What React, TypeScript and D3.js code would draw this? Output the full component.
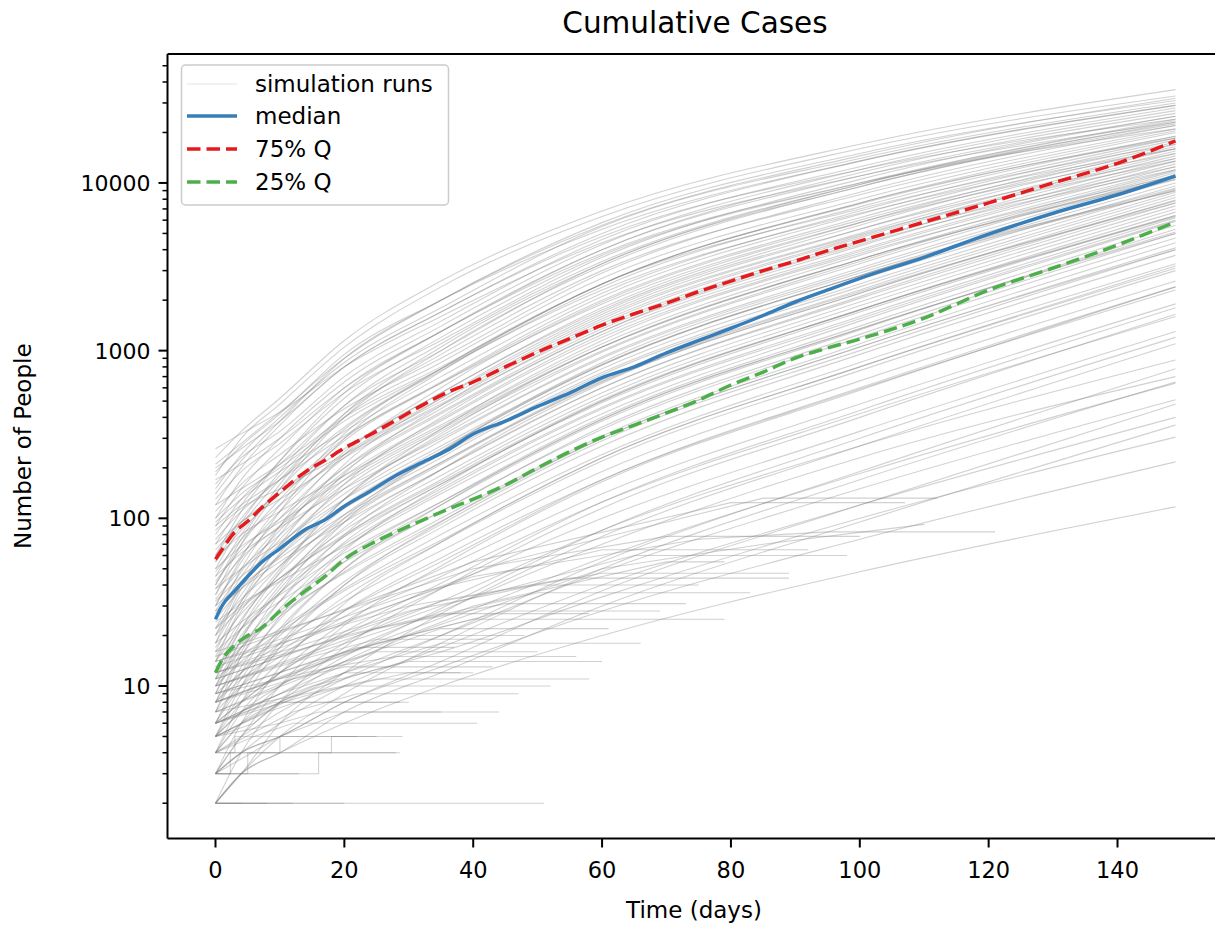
import React from 'react';
import * as d3 from 'd3';

const W = 1215;
const H = 930;

// days at which each growing simulation run was read
const runDays = [0, 4, 10, 20, 35, 60, 100, 149];
const growingRuns: number[][] = [
  [230, 330, 520, 1150, 2600, 6800, 17000, 36000],
  [180, 300, 480, 1050, 2400, 6300, 16000, 33000],
  [210, 280, 430, 900, 2000, 5800, 15000, 31000],
  [150, 240, 400, 850, 1800, 5500, 14000, 30000],
  [120, 200, 360, 800, 1700, 5000, 13500, 29000],
  [160, 230, 330, 700, 1500, 4600, 12500, 28000],
  [100, 170, 300, 650, 1400, 4300, 12000, 27000],
  [90, 150, 260, 600, 1300, 4000, 11500, 26000],
  [130, 190, 280, 560, 1150, 3600, 10500, 25000],
  [70, 120, 220, 520, 1200, 3700, 10000, 24000],
  [80, 130, 210, 470, 1000, 3300, 9500, 23000],
  [110, 160, 240, 450, 900, 2900, 8800, 22000],
  [60, 100, 180, 420, 950, 3000, 8500, 21000],
  [50, 90, 170, 400, 850, 2700, 8000, 20500],
  [75, 110, 170, 350, 780, 2500, 7600, 20000],
  [45, 80, 150, 340, 760, 2400, 7200, 19000],
  [95, 130, 190, 330, 700, 2200, 6800, 18500],
  [55, 85, 140, 300, 650, 2100, 6500, 18000],
  [40, 70, 130, 290, 640, 2000, 6200, 17500],
  [65, 95, 140, 260, 560, 1800, 5800, 17000],
  [35, 60, 110, 250, 560, 1750, 5600, 16500],
  [48, 75, 120, 240, 520, 1650, 5300, 16000],
  [30, 55, 100, 230, 500, 1600, 5000, 15500],
  [85, 115, 150, 240, 480, 1500, 4800, 15000],
  [28, 48, 90, 200, 450, 1450, 4700, 14500],
  [42, 65, 100, 200, 430, 1350, 4400, 14000],
  [25, 45, 85, 190, 420, 1300, 4200, 13500],
  [38, 58, 90, 180, 390, 1250, 4000, 13000],
  [22, 40, 75, 170, 380, 1200, 3900, 12500],
  [58, 80, 110, 180, 360, 1100, 3700, 12000],
  [33, 50, 80, 160, 340, 1050, 3500, 11800],
  [20, 35, 68, 150, 330, 1000, 3400, 11500],
  [27, 42, 70, 140, 310, 980, 3300, 11200],
  [45, 62, 88, 150, 300, 920, 3100, 11000],
  [18, 32, 60, 130, 290, 900, 3000, 10500],
  [25, 38, 60, 120, 260, 820, 2800, 10000],
  [15, 28, 52, 115, 250, 780, 2650, 9600],
  [32, 45, 66, 115, 240, 740, 2500, 9200],
  [14, 25, 47, 105, 230, 720, 2400, 8800],
  [22, 33, 52, 100, 215, 670, 2300, 8500],
  [12, 22, 42, 95, 210, 650, 2200, 8200],
  [28, 38, 55, 95, 195, 600, 2100, 7900],
  [10, 19, 38, 88, 195, 600, 2050, 7600],
  [17, 27, 44, 85, 180, 560, 1950, 7300],
  [11, 20, 36, 78, 170, 530, 1850, 7000],
  [20, 29, 44, 78, 160, 500, 1750, 6700],
  [9, 17, 32, 72, 160, 490, 1700, 6400],
  [14, 22, 36, 70, 150, 460, 1600, 6200],
  [8, 15, 29, 66, 145, 450, 1550, 6000],
  [24, 31, 42, 68, 140, 420, 1500, 5900],
  [10, 17, 28, 58, 125, 400, 1400, 5600],
  [7, 13, 25, 55, 120, 380, 1330, 5300],
  [16, 22, 32, 55, 110, 350, 1250, 5000],
  [6, 11, 22, 50, 110, 340, 1200, 4700],
  [12, 17, 26, 48, 100, 310, 1100, 4400],
  [8, 12, 20, 42, 92, 290, 1000, 4000],
  [5, 9, 18, 40, 88, 270, 950, 3700],
  [11, 15, 22, 38, 80, 240, 850, 3300],
  [6, 10, 17, 34, 72, 220, 760, 3000],
  [9, 12, 18, 32, 64, 190, 660, 2600],
  [5, 8, 14, 28, 58, 170, 590, 2300],
  [7, 10, 15, 26, 50, 140, 480, 1900],
  [4, 7, 12, 24, 45, 125, 420, 1600],
  [6, 8, 12, 20, 38, 100, 330, 1300],
  [4, 6, 10, 18, 32, 85, 270, 880],
  [5, 7, 10, 16, 28, 70, 230, 700],
  [3, 5, 8, 14, 24, 58, 185, 640],
  [4, 6, 8, 12, 20, 48, 150, 510],
  [3, 4, 6, 10, 17, 40, 120, 400],
  [5, 6, 8, 11, 16, 34, 100, 305],
  [3, 4, 5, 8, 13, 28, 75, 217],
  [2, 3, 4, 6, 10, 20, 48, 117],
  [200, 260, 380, 800, 1700, 4800, 12000, 24000],
  [140, 220, 380, 900, 2000, 5600, 14500, 32000],
  [170, 210, 300, 600, 1300, 3800, 10000, 21000],
  [60, 110, 220, 560, 1300, 4000, 11000, 25000],
  [35, 70, 150, 400, 1000, 3200, 9500, 22000],
  [120, 150, 210, 400, 800, 2500, 7000, 17000],
  [25, 50, 110, 300, 750, 2500, 7500, 19000],
  [90, 120, 170, 310, 640, 1900, 5800, 15000],
  [18, 38, 80, 210, 520, 1700, 5300, 14000],
  [70, 95, 130, 230, 470, 1400, 4500, 12500],
  [14, 30, 62, 160, 400, 1300, 4300, 12000],
  [50, 68, 95, 170, 350, 1050, 3500, 10500],
  [12, 24, 50, 130, 320, 1050, 3500, 10800],
  [38, 50, 72, 130, 270, 830, 2800, 9000],
  [9, 19, 40, 100, 250, 820, 2800, 9300],
  [30, 40, 58, 105, 215, 660, 2250, 7600],
  [7, 15, 32, 80, 195, 640, 2200, 7800],
  [22, 30, 44, 80, 165, 510, 1750, 6300],
  [6, 12, 26, 64, 155, 500, 1750, 6400],
  [18, 24, 35, 62, 125, 390, 1350, 5000],
  [5, 10, 21, 50, 120, 390, 1350, 5100],
  [13, 18, 27, 47, 96, 300, 1050, 4000],
  [4, 8, 17, 40, 95, 300, 1050, 4100],
  [10, 14, 21, 37, 74, 230, 800, 3100],
  [3, 6, 13, 31, 72, 230, 800, 3200],
  [8, 11, 16, 28, 55, 170, 600, 2400],
  [3, 5, 10, 23, 52, 165, 580, 2400],
  [6, 8, 12, 21, 41, 125, 440, 1800],
  [2, 4, 8, 17, 38, 115, 400, 1650],
  [5, 7, 9, 15, 29, 85, 300, 1200],
  [2, 3, 6, 12, 27, 78, 270, 1100],
  [4, 5, 7, 11, 20, 55, 190, 780],
  [2, 3, 5, 9, 18, 50, 170, 650],
  [3, 4, 5, 8, 14, 37, 120, 480],
  [2, 3, 4, 7, 12, 30, 95, 360],
  [40, 75, 160, 420, 1050, 3300, 9800, 23500],
  [55, 95, 190, 470, 1100, 3400, 9800, 22500],
  [30, 58, 120, 320, 780, 2500, 7600, 18500],
  [20, 40, 90, 240, 600, 1950, 6000, 16000],
  [16, 32, 70, 185, 470, 1550, 4900, 13500],
  [11, 22, 48, 130, 340, 1150, 3800, 11000],
  [8, 16, 36, 95, 250, 850, 2900, 9000],
  [260, 320, 430, 800, 1600, 4400, 11000, 23000],
  [190, 270, 420, 950, 2000, 5300, 13500, 29000],
  [100, 140, 200, 380, 780, 2300, 6600, 16000],
];

// runs that stopped growing: [day, cases] points
const stalledRuns: [number, number][][] = [
  [[0, 2], [51, 2]],
  [[0, 2], [12, 2]],
  [[0, 2], [8, 2]],
  [[0, 2], [4, 2]],
  [[0, 2], [20, 2]],
  [[0, 3], [13, 3]],
  [[0, 3], [16, 3], [16, 4], [28.6, 4]],
  [[0, 3], [2.3, 3], [2.3, 4], [28, 4]],
  [[0, 3], [5, 3], [5, 4], [10, 4], [10, 5], [22, 5]],
  [[0, 4], [3, 4], [3, 5], [25, 5]],
  [[0, 4], [18, 4], [18, 5], [29, 5]],
  [[0, 4], [6, 5], [12, 6], [40.6, 6]],
  [[0, 5], [6, 6], [10, 8], [30, 8]],
  [[0, 5], [10, 6], [16, 7], [44, 7]],
  [[0, 3], [10, 5], [20, 7], [35, 7]],
  [[0, 6], [9, 8], [28.6, 8]],
  [[0, 4], [12, 7], [22, 9], [47, 9]],
  [[0, 5], [8, 7], [20, 10], [52, 10]],
  [[0, 7], [14, 9], [25, 11], [58, 11]],
  [[0, 6], [15, 9], [30, 12], [40, 12]],
  [[0, 6], [10, 9], [20, 12], [38, 12]],
  [[0, 8], [12, 11], [20, 13], [43, 13]],
  [[0, 6], [15, 10], [30, 14], [60, 14]],
  [[0, 9], [18, 13], [28, 15], [56, 15]],
  [[0, 7], [12, 11], [25, 16], [50, 16]],
  [[0, 8], [14, 13], [22, 17], [37, 17]],
  [[0, 5], [20, 12], [35, 18], [66, 18]],
  [[0, 10], [15, 15], [25, 19], [43, 19]],
  [[0, 9], [15, 14], [30, 20], [48, 20]],
  [[0, 7], [20, 14], [35, 22], [61, 22]],
  [[0, 9], [20, 16], [40, 25], [79, 25]],
  [[0, 11], [20, 20], [35, 27], [58, 27]],
  [[0, 8], [25, 18], [45, 28], [69, 28]],
  [[0, 12], [25, 22], [45, 31], [73, 31]],
  [[0, 10], [30, 24], [50, 36], [83, 36]],
  [[0, 12], [30, 28], [50, 40], [75, 40]],
  [[0, 14], [30, 30], [55, 44], [89, 44]],
  [[0, 11], [35, 32], [60, 47], [89, 47]],
  [[0, 8], [40, 30], [70, 55], [79, 55]],
  [[0, 10], [35, 30], [65, 60], [98, 60]],
  [[0, 14], [30, 35], [60, 65], [92, 65]],
  [[0, 16], [40, 50], [70, 78], [100, 78]],
  [[0, 6], [30, 20], [60, 50], [85, 70], [110, 92]],
  [[0, 13], [40, 45], [75, 75], [95, 83], [121, 83]],
  [[0, 15], [40, 55], [80, 124], [107, 124]],
  [[0, 12], [45, 55], [85, 132], [112, 132]],
];

// quantile summaries
const qDays = [0, 1, 3, 5, 7, 10, 14, 17, 20, 24, 28, 32, 36, 40, 45, 50, 55, 60, 65, 70, 75, 80, 85, 90, 95, 100, 110, 120, 130, 140, 149];
const median = [25, 30, 37, 45, 54, 66, 86, 98, 118, 145, 180, 215, 255, 318, 380, 465, 560, 690, 800, 970, 1150, 1360, 1620, 1950, 2300, 2700, 3600, 4950, 6600, 8500, 11000];
const q75 = [57, 65, 83, 96, 114, 143, 190, 222, 262, 315, 385, 470, 565, 650, 800, 980, 1180, 1420, 1660, 1920, 2250, 2600, 3000, 3420, 3950, 4500, 5850, 7600, 10000, 13100, 17800];
const q25 = [12, 14.3, 17.5, 20, 22, 28, 37, 45, 57, 70, 83, 97, 113, 130, 158, 200, 250, 305, 360, 425, 507, 624, 745, 904, 1037, 1172, 1565, 2297, 3110, 4265, 5850];

const xTicks = [0, 20, 40, 60, 80, 100, 120, 140];
const yTicks = [10, 100, 1000, 10000];
const yTickLabels = ['10', '100', '1000', '10000'];
const legendLabels = ['simulation runs', 'median', '75% Q', '25% Q'];

const FONT = '"DejaVu Sans", Verdana, sans-serif';
const BLUE = '#377eb8';
const RED = '#e41a1c';
const GREEN = '#4daf4a';

export default function App() {
  const left = 167.5;
  const right = 1223.5;
  const top = 54;
  const bottom = 838.5;
  const x = d3.scaleLinear().domain([-7.45, 156.45]).range([left, right]);
  const y = d3.scaleLog().domain([Math.pow(10, 0.0906), Math.pow(10, 4.769)]).range([bottom, top]);

  const smooth = d3
    .line<[number, number]>()
    .x((d) => x(d[0]))
    .y((d) => y(d[1]))
    .curve(d3.curveMonotoneX);
  const straight = d3
    .line<[number, number]>()
    .x((d) => x(d[0]))
    .y((d) => y(d[1]));

  const minorTicks: number[] = [];
  for (let k = 0; k <= 4; k++) {
    for (let m = 2; m <= 9; m++) {
      const v = m * Math.pow(10, k);
      if (y(v) >= top && y(v) <= bottom) minorTicks.push(v);
    }
  }

  const zip = (vals: number[], days: number[]) => vals.map((v, i) => [days[i], v] as [number, number]);

  const legendRows = [
    { y: 84, color: '#808080', op: 0.15, dash: undefined as string | undefined, w: 1.5 },
    { y: 116, color: BLUE, op: 1, dash: undefined, w: 3.5 },
    { y: 149, color: RED, op: 1, dash: '13.5,6', w: 3.5 },
    { y: 182, color: GREEN, op: 1, dash: '13.5,6', w: 3.5 },
  ];

  return (
    <svg
      width={W}
      height={H}
      style={{ position: 'absolute', left: 0, top: 0, background: '#fff' }}
      fontFamily={FONT}
    >
      <rect x={0} y={0} width={W} height={H} fill="#fff" />
      <defs>
        <clipPath id="plotclip">
          <rect x={left} y={top} width={right - left} height={bottom - top} />
        </clipPath>
      </defs>
      <g clipPath="url(#plotclip)">
        <g fill="none" stroke="#808080" strokeOpacity={0.36} strokeWidth={1.1}>
          {growingRuns.map((r, i) => (
            <path key={'g' + i} d={smooth(zip(r, runDays)) || ''} />
          ))}
          {stalledRuns.map((r, i) => (
            <path key={'s' + i} d={straight(r) || ''} />
          ))}
        </g>
        <path d={smooth(zip(median, qDays)) || ''} fill="none" stroke={BLUE} strokeWidth={3.5} />
        <path d={smooth(zip(q75, qDays)) || ''} fill="none" stroke={RED} strokeWidth={3.5} strokeDasharray="13.5,6" />
        <path d={smooth(zip(q25, qDays)) || ''} fill="none" stroke={GREEN} strokeWidth={3.5} strokeDasharray="13.5,6" />
      </g>

      {/* spines */}
      <g stroke="#000" strokeWidth={2} fill="none">
        <line x1={left} y1={top} x2={left} y2={bottom} />
        <line x1={left} y1={bottom} x2={right} y2={bottom} />
        <line x1={left} y1={top} x2={right} y2={top} />
        <line x1={right} y1={top} x2={right} y2={bottom} />
      </g>

      {/* x ticks */}
      <g>
        {xTicks.map((t) => (
          <g key={t}>
            <line x1={x(t)} x2={x(t)} y1={bottom} y2={bottom + 9} stroke="#000" strokeWidth={2} />
            <text x={x(t)} y={bottom + 39} textAnchor="middle" fontSize={22.5} fill="#000">
              {t}
            </text>
          </g>
        ))}
      </g>

      {/* y ticks */}
      <g>
        {minorTicks.map((t) => (
          <line key={'m' + t} x1={left - 5} x2={left} y1={y(t)} y2={y(t)} stroke="#000" strokeWidth={1.5} />
        ))}
        {yTicks.map((t, i) => (
          <g key={t}>
            <line x1={left - 9} x2={left} y1={y(t)} y2={y(t)} stroke="#000" strokeWidth={2} />
            <text x={left - 17} y={y(t)} dy="0.36em" textAnchor="end" fontSize={22} fill="#000">
              {yTickLabels[i]}
            </text>
          </g>
        ))}
      </g>

      {/* labels */}
      <text x={695} y={33} textAnchor="middle" fontSize={29.5} fill="#000">
        Cumulative Cases
      </text>
      <text x={694} y={918} textAnchor="middle" fontSize={23} fill="#000">
        Time (days)
      </text>
      <text
        transform={`translate(31,${(top + bottom) / 2}) rotate(-90)`}
        textAnchor="middle"
        fontSize={23}
        fill="#000"
      >
        Number of People
      </text>

      {/* legend */}
      <g>
        <rect x={181.5} y={65} width={267} height={140} rx={4} fill="#fff" fillOpacity={0.8} stroke="#cccccc" strokeWidth={1.5} />
        {legendRows.map((r, i) => (
          <g key={i}>
            <line
              x1={187}
              x2={237}
              y1={r.y}
              y2={r.y}
              stroke={r.color}
              strokeOpacity={r.op}
              strokeWidth={r.w}
              strokeDasharray={r.dash}
            />
            <text x={255} y={r.y} dy="0.36em" fontSize={23} fill="#000">
              {legendLabels[i]}
            </text>
          </g>
        ))}
      </g>
    </svg>
  );
}
